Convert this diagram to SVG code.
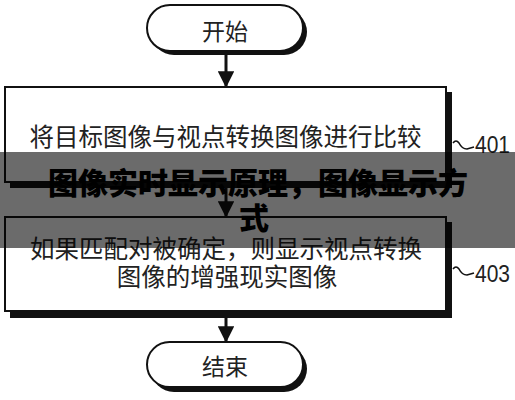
<svg xmlns="http://www.w3.org/2000/svg" width="515" height="400" viewBox="0 0 515 400">
<defs>
<style>
.box{fill:#fff;stroke:#111;stroke-width:2}
.shadow{fill:#111}
.t{font-family:"Noto Sans CJK SC","Noto Sans",sans-serif;fill:#222;text-anchor:middle}
.num{font-family:"Liberation Sans",Arial,sans-serif;font-size:23px;fill:#222}
.conn{stroke:#111;stroke-width:3;fill:none}
.sq{stroke:#111;stroke-width:1.6;fill:none}
.ban{font-family:"Noto Sans CJK SC",sans-serif;font-weight:900;font-size:30px;fill:#000;text-anchor:middle}
</style>
<marker id="ah" viewBox="0 0 10 10" refX="9" refY="5" markerWidth="5.5" markerHeight="5.5" orient="auto" markerUnits="strokeWidth">
<path d="M0,0 L10,5 L0,10 z" fill="#111"/>
</marker>
</defs>
<rect width="515" height="400" fill="#fff"/>
<g id="start">
<rect class="shadow" x="151" y="9" width="156" height="46" rx="23"/>
<rect class="box" x="147" y="5" width="156" height="46" rx="23"/>
<text class="t" x="225" y="40" font-size="23">开始</text>
</g>
<g id="step401">
<rect class="shadow" x="10" y="92" width="442" height="96"/>
<rect class="box" x="5" y="87" width="441" height="95"/>
<text class="t" x="225.5" y="146" font-size="24.5">将目标图像与视点转换图像进行比较</text>
<path class="sq" d="M453,143 q3,-4 6,0 q3,6 8,6 l7,-2"/>
<text class="num" x="475" y="153" textLength="35" lengthAdjust="spacingAndGlyphs">401</text>
</g>
<g id="step403">
<rect class="shadow" x="10" y="222" width="442" height="96"/>
<rect class="box" x="5" y="217" width="441" height="94"/>
<text class="t" x="226" y="258" font-size="24.5">如果匹配对被确定，则显示视点转换</text>
<text class="t" x="227" y="286" font-size="24.5">图像的增强现实图像</text>
<path class="sq" d="M453,269 q3,-4 6,0 q3,6 8,6 l7,-2"/>
<text class="num" x="475" y="282" textLength="35" lengthAdjust="spacingAndGlyphs">403</text>
</g>
<g id="end">
<rect class="shadow" x="151" y="346" width="156" height="46" rx="23"/>
<rect class="box" x="147" y="342" width="156" height="45" rx="22.5"/>
<text class="t" x="225" y="375" font-size="23">结束</text>
</g>
<g id="connectors">
<line class="conn" x1="226" y1="55" x2="226" y2="86" marker-end="url(#ah)"/>
<line class="conn" x1="226" y1="188" x2="226" y2="216" marker-end="url(#ah)"/>
<line class="conn" x1="226" y1="318" x2="226" y2="341" marker-end="url(#ah)"/>
</g>
<g id="banner">
<rect x="0" y="152" width="515" height="96" fill="#000" fill-opacity="0.58"/>
<text class="ban" x="258" y="194">图像实时显示原理，图像显示方</text>
<text class="ban" x="254" y="229">式</text>
</g>
</svg>
